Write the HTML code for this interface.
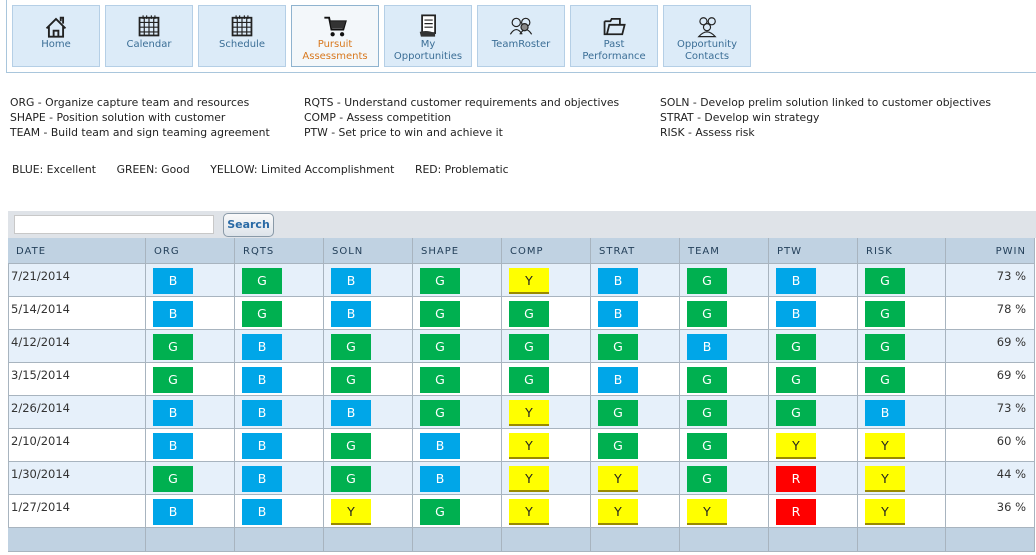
<!DOCTYPE html>
<html><head><meta charset="utf-8">
<style>
body{margin:0;width:1036px;height:555px;background:#fff;font-family:"DejaVu Sans","Liberation Sans",sans-serif;overflow:hidden;position:relative}
.nav{position:absolute;left:6px;top:-1px;width:1040px;height:73px;border:1px solid #a9c6dc;border-top:none;border-right:none}
.btn{position:absolute;top:5px;width:88px;height:62px;background:#dcebf8;border:1px solid #b5cfe6;box-sizing:border-box;text-align:center;color:#3b6e96;font-size:10px;line-height:12px}
.btn.act{background:#f3f7fa;border-color:#8fb3cf;color:#d8781e}
.btn svg{display:block;margin:7px auto 0}
.txt{position:absolute;font-size:10.8px;color:#222;line-height:15px;white-space:nowrap}
.tbar{position:absolute;left:8px;top:211px;width:1028px;height:27px;background:#dfe3e8}
.sinput{position:absolute;left:14px;top:215px;width:198px;height:17px;background:#fff;border:1px solid #c8c8c8}
.sbtn{position:absolute;left:223px;top:213px;width:51px;height:24px;border:1px solid #8a9aa8;border-radius:5px;background:linear-gradient(#fafafa,#dde4ea);box-sizing:border-box;font-size:11px;font-weight:bold;color:#2a6aa5;text-align:center;line-height:22px}
.cell{position:absolute;box-sizing:border-box;border-right:1px solid #a8b4bf;border-bottom:1px solid #a8b4bf;font-size:11.5px;color:#333}
.hd{background:#c0d2e2;color:#24405a;font-size:10px;letter-spacing:1px;padding:8px 0 0 8px}
.badge{position:absolute;left:7px;top:4px;width:40px;height:26px;text-align:center;line-height:26px;font-size:12.5px;color:#fff;box-sizing:border-box}
</style></head><body>
<div class="nav"></div>
<div id="navbtns"></div>
<div class="txt" style="left:10px;top:95px">ORG - Organize capture team and resources<br>SHAPE - Position solution with customer<br>TEAM - Build team and sign teaming agreement</div>
<div class="txt" style="left:304px;top:95px">RQTS - Understand customer requirements and objectives<br>COMP - Assess competition<br>PTW - Set price to win and achieve it</div>
<div class="txt" style="left:660px;top:95px">SOLN - Develop prelim solution linked to customer objectives<br>STRAT - Develop win strategy<br>RISK - Assess risk</div>
<div class="txt" style="left:12px;top:162px">BLUE: Excellent&nbsp;&nbsp;&nbsp;&nbsp;&nbsp;&nbsp;GREEN: Good&nbsp;&nbsp;&nbsp;&nbsp;&nbsp;&nbsp;YELLOW: Limited Accomplishment&nbsp;&nbsp;&nbsp;&nbsp;&nbsp;&nbsp;RED: Problematic</div>
<div class="tbar"></div>
<div class="sinput"></div>
<div class="sbtn">Search</div>
<div id="tbl"></div>
<script>
const navLabels=["Home","Calendar","Schedule","Pursuit<br>Assessments","My<br>Opportunities","TeamRoster","Past<br>Performance","Opportunity<br>Contacts"];
const headers=["DATE","ORG","RQTS","SOLN","SHAPE","COMP","STRAT","TEAM","PTW","RISK","PWIN"];
const dates=["7/21/2014","5/14/2014","4/12/2014","3/15/2014","2/26/2014","2/10/2014","1/30/2014","1/27/2014"];
const grades=["BGBGYBGBG","BGBGGBGBG","GBGGGGBGG","GBGGGBGGG","BBBGYGGGB","BBGBYGGYY","GBGBYYGRY","BBYGYYYRY"];
const pwin=[73,78,69,69,73,60,44,36];
const icons=[
'<path d="M3 13 L11 5 L19 13 M5 11 V20 H17 V11 M9 20 V15 H13 V20 M15 7 V4 H17 V9" fill="none" stroke="#222" stroke-width="1.6"/>',
'<rect x="3" y="4" width="16" height="15" fill="none" stroke="#222" stroke-width="1.5"/><path d="M3 8H19M3 12H19M3 16H19M7 4V19M11 4V19M15 4V19M6 2V5M9 2V5M13 2V5M16 2V5" stroke="#222" stroke-width="1"/>',
'<rect x="3" y="4" width="16" height="15" fill="none" stroke="#222" stroke-width="1.5"/><path d="M3 8H19M3 12H19M3 16H19M7 4V19M11 4V19M15 4V19M6 2V5M9 2V5M13 2V5M16 2V5" stroke="#222" stroke-width="1"/>',
'<path d="M2 4H6L8 14H18L20 7H7" fill="none" stroke="#111" stroke-width="1.6"/><path d="M7 7H20L18 13H8Z" fill="#333"/><circle cx="9" cy="18" r="1.8" fill="#111"/><circle cx="17" cy="18" r="1.8" fill="#111"/>',
'<rect x="6" y="2" width="11" height="15" fill="#fff" stroke="#222" stroke-width="1.5"/><path d="M8 6H15M8 9H15M8 12H15" stroke="#222"/><path d="M4 16 Q10 14 17 17 L17 20 L5 20Z" fill="#333"/>',
'<circle cx="7" cy="8" r="3.5" fill="none" stroke="#222"/><circle cx="15" cy="8" r="3.5" fill="none" stroke="#222"/><path d="M2 18Q7 10 12 18M10 18Q15 10 20 18" fill="none" stroke="#222"/><circle cx="14" cy="12" r="3" fill="#888" stroke="#222"/>',
'<path d="M3 7V18H18L20 10H7L5 18M3 7H8L9 5H16V10" fill="none" stroke="#222" stroke-width="1.5"/>',
'<circle cx="8" cy="7" r="3" fill="none" stroke="#222"/><circle cx="15" cy="7" r="3" fill="none" stroke="#222"/><circle cx="11" cy="12" r="3" fill="none" stroke="#222"/><path d="M4 20Q11 12 18 20Z" fill="none" stroke="#222"/>'
];
const nb=document.getElementById('navbtns');
navLabels.forEach((l,i)=>{
 const d=document.createElement('div');
 d.className='btn'+(i==3?' act':'');
 d.style.left=(12+i*93)+'px';
 
 
 d.innerHTML='<svg width="26" height="26" viewBox="0 0 22 22">'+icons[i]+'</svg>'+l;
 nb.appendChild(d);
});
const colX=[8,146,235,324,413,502,591,680,769,858,946,1035];
const colorMap={B:["#00a6e8","#fff"],G:["#00b050","#fff"],Y:["#ffff00","#222"],R:["#ff0000","#fff"]};
const T=document.getElementById('tbl');
function cell(c,y,h,cls){const d=document.createElement('div');d.className='cell '+(cls||'');d.style.left=colX[c]+'px';d.style.top=y+'px';d.style.width=(colX[c+1]-colX[c])+'px';d.style.height=h+'px';T.appendChild(d);return d;}
headers.forEach((h,c)=>{const d=cell(c,238,26,'hd');d.textContent=h;if(c==10){d.style.textAlign='right';d.style.paddingRight='8px';}
 
 });
dates.forEach((dt,r)=>{
 const y=264+r*33,bg=r%2==0?'#e6f0fa':'#fff';
 for(let c=0;c<11;c++){
  const d=cell(c,y,33);d.style.background=bg;
  if(c==0){d.textContent=dt;d.style.padding='5px 0 0 2px';d.style.borderLeft='1px solid #a8b4bf';
   
   }
  else if(c==10){d.textContent=pwin[r]+' %';d.style.textAlign='right';d.style.padding='5px 8px 0 0';
   
   }
  else{const g=grades[r][c-1];const b=document.createElement('div');b.className='badge';b.style.background=colorMap[g][0];b.style.color=colorMap[g][1];b.textContent=g;if(g=='Y')b.style.borderBottom='2px solid #9a8a00';
   
   
   d.appendChild(b);}
 }
});
for(let c=0;c<11;c++){const d=cell(c,528,24);d.style.background='#c0d2e2';
 
 }
</script>
</body></html>
